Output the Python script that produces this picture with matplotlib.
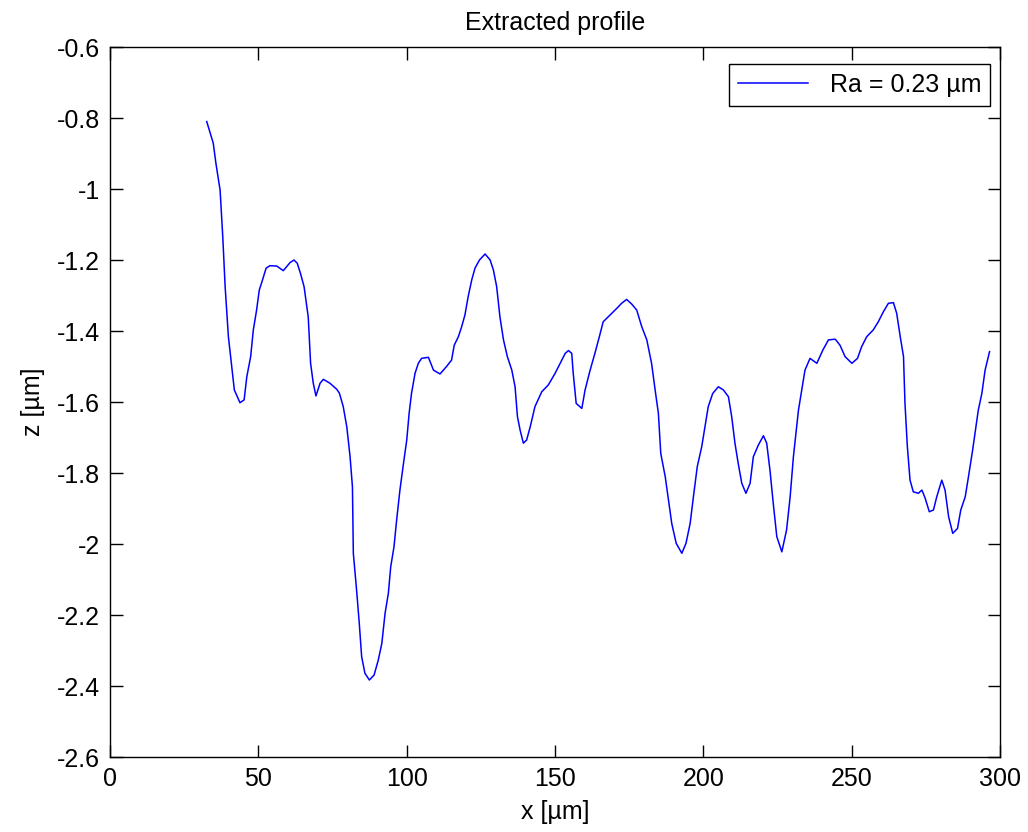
import numpy as np
import matplotlib
matplotlib.use("Agg")
from matplotlib import pyplot as plt

# profile (x in um, z in um)
x = [32.6, 34.8, 35.7, 37.1, 38.0, 38.8, 39.9, 41.0, 41.9, 43.8, 45.2, 46.1,
     47.4, 48.3, 49.4, 50.3, 51.4, 52.6, 53.9, 56.2, 58.4, 60.7, 62.0, 63.1,
     64.2, 65.4, 66.8, 67.6, 68.5, 69.4, 70.8, 71.9, 74.1, 76.4, 77.3, 78.6,
     79.8, 80.9, 81.7, 82.0, 83.1, 84.0, 84.8, 85.9, 87.4, 89.0, 90.4, 91.6,
     92.7, 93.8, 94.6, 95.7, 96.6, 97.7, 98.9, 100.0, 100.8, 101.6, 102.8,
     103.9, 105.0, 107.3, 109.0, 111.2, 113.4, 115.1, 116.0, 117.4, 118.5,
     119.6, 120.7, 121.9, 123.0, 124.5, 126.4, 128.1, 129.2, 130.3, 131.4,
     132.6, 133.9, 135.4, 136.5, 137.3, 138.2, 139.3, 140.4, 141.6, 143.2,
     145.5, 147.7, 150.0, 151.7, 153.4, 154.5, 155.6, 156.1, 157.1, 159.0,
     160.1, 161.8, 163.4, 164.9, 166.2, 168.5, 170.8, 172.4, 174.1, 175.8,
     177.5, 179.2, 180.9, 182.5, 183.7, 184.8, 185.6, 187.1, 188.2, 189.3,
     190.8, 192.7, 194.1, 195.5, 196.6, 197.9, 199.4, 200.5, 201.6, 203.1,
     205.0, 206.7, 208.4, 209.5, 210.6, 211.7, 212.9, 214.3, 215.7, 216.8,
     218.5, 220.2, 221.3, 222.4, 223.5, 224.7, 226.4, 228.0, 229.2, 230.3,
     232.0, 233.1, 234.2, 235.9, 238.2, 240.2, 242.1, 244.4, 246.0, 247.7,
     250.0, 251.9, 253.3, 255.0, 257.2, 258.9, 260.6, 262.3, 264.0, 265.1,
     266.3, 267.4, 267.9, 268.7, 269.6, 270.7, 272.4, 273.6, 274.7, 276.1,
     277.5, 278.6, 280.3, 281.4, 282.6, 284.0, 285.6, 286.7, 288.2, 289.3,
     290.7, 292.6, 293.8, 294.9, 296.4]
z = [-0.81, -0.871, -0.928, -1.003, -1.134, -1.275, -1.416, -1.50, -1.566,
     -1.602, -1.594, -1.529, -1.472, -1.397, -1.341, -1.285, -1.256, -1.223,
     -1.216, -1.217, -1.230, -1.207, -1.200, -1.209, -1.238, -1.275, -1.36,
     -1.491, -1.547, -1.583, -1.547, -1.536, -1.547, -1.564, -1.575, -1.613,
     -1.67, -1.754, -1.839, -2.026, -2.13, -2.223, -2.317, -2.364, -2.383,
     -2.369, -2.327, -2.28, -2.195, -2.139, -2.064, -2.008, -1.932, -1.848,
     -1.773, -1.707, -1.632, -1.576, -1.519, -1.491, -1.477, -1.474, -1.51,
     -1.521, -1.50, -1.482, -1.44, -1.416, -1.388, -1.355, -1.303, -1.256,
     -1.223, -1.20, -1.183, -1.20, -1.228, -1.275, -1.36, -1.425, -1.472,
     -1.51, -1.557, -1.641, -1.679, -1.716, -1.707, -1.67, -1.613, -1.571,
     -1.552, -1.519, -1.491, -1.463, -1.455, -1.463, -1.519, -1.604, -1.618,
     -1.566, -1.51, -1.463, -1.416, -1.374, -1.355, -1.336, -1.322, -1.311,
     -1.324, -1.341, -1.388, -1.425, -1.491, -1.566, -1.632, -1.745, -1.81,
     -1.876, -1.942, -1.998, -2.026, -1.998, -1.942, -1.867, -1.782, -1.726,
     -1.67, -1.613, -1.576, -1.557, -1.566, -1.585, -1.641, -1.716, -1.773,
     -1.829, -1.857, -1.829, -1.754, -1.721, -1.695, -1.716, -1.792, -1.885,
     -1.979, -2.022, -1.96, -1.867, -1.754, -1.623, -1.566, -1.51, -1.477,
     -1.491, -1.454, -1.425, -1.423, -1.44, -1.472, -1.491, -1.477, -1.444,
     -1.416, -1.397, -1.374, -1.346, -1.322, -1.32, -1.35, -1.416, -1.472,
     -1.604, -1.726, -1.82, -1.853, -1.857, -1.848, -1.871, -1.909, -1.904,
     -1.867, -1.82, -1.848, -1.923, -1.97, -1.956, -1.904, -1.867, -1.81,
     -1.735, -1.623, -1.576, -1.51, -1.458]

xticks = [0, 50, 100, 150, 200, 250, 300]
yticks = [-2.6, -2.4, -2.2, -2.0, -1.8, -1.6, -1.4, -1.2, -1.0, -0.8, -0.6]
ytick_labels = ["-2.6", "-2.4", "-2.2", "-2", "-1.8", "-1.6", "-1.4", "-1.2",
                "-1", "-0.8", "-0.6"]

plt.rcParams["font.family"] = ["Liberation Sans", "DejaVu Sans"]

fig = plt.figure(figsize=(10.28, 8.32), dpi=100)
ax = fig.add_axes([0.107, 0.0901, 0.866, 0.8534])

ax.plot(x, z, color="#0000ff", lw=1.1, label="Ra = 0.23 µm")

ax.set_xlim(0, 300)
ax.set_ylim(-2.6, -0.6)
ax.set_xticks(xticks)
ax.set_yticks(yticks)
ax.set_yticklabels(ytick_labels)
ax.tick_params(direction="in", length=9, width=1, labelsize=18,
               top=True, right=True, pad=7)
for s in ax.spines.values():
    s.set_linewidth(1.0)

ax.set_xlabel("x [µm]", fontsize=18, labelpad=7)
ax.set_ylabel("z [µm]", fontsize=18, labelpad=9)
ax.set_title("Extracted profile", fontsize=18, pad=12)

leg = ax.legend(loc="upper right", fontsize=18, fancybox=False,
                framealpha=1, edgecolor="black",
                bbox_to_anchor=(0.9888, 0.976), borderaxespad=0,
                handlelength=2.8, handletextpad=0.9, borderpad=0.35)
leg.get_frame().set_linewidth(1.0)

fig.savefig("out.png", dpi=100)
